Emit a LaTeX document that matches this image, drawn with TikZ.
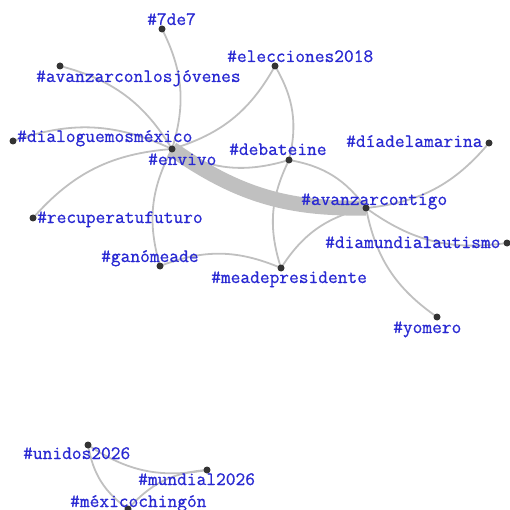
\documentclass[tikz,border=0pt]{standalone}
\usepackage{fontspec}
\newfontfamily\tagfont{Latin Modern Mono}[FakeBold=0.7]
\definecolor{tagblue}{RGB}{40,40,210}
\definecolor{linkgray}{RGB}{192,192,192}
\definecolor{dotgray}{RGB}{51,51,51}
\tikzset{
  tag/.style={font=\tagfont\fontsize{18.9}{20}\selectfont, text=tagblue, inner sep=0pt, anchor=base west},
  dot/.style={circle, fill=dotgray, inner sep=0pt, minimum size=7pt},
  link/.style={draw=linkgray, line width=1.8pt, bend right=22},
}
\begin{document}
\begin{tikzpicture}[x=1pt,y=1pt]
  \useasboundingbox (0,0) rectangle (510,-510);
  % hashtag positions
  \path
    (172,-149) coordinate (envivo)
    (162,-29) coordinate (7de7)
    (60,-66) coordinate (jovenes)
    (13,-141) coordinate (dialoguemos)
    (33,-218) coordinate (recupera)
    (275,-66) coordinate (elecciones)
    (289,-160) coordinate (debateine)
    (489,-143) coordinate (marina)
    (366,-208) coordinate (contigo)
    (507,-243) coordinate (autismo)
    (281,-268) coordinate (meade)
    (437,-317) coordinate (yomero)
    (160,-266) coordinate (ganomeade)
    (88,-445) coordinate (unidos)
    (207,-470) coordinate (mundial)
    (128,-509) coordinate (chingon);
  \begin{scope}[link]
    \draw[line width=15pt, bend right=18] (envivo) to (contigo);
    \draw (envivo) to (7de7);
    \draw (envivo) to (jovenes);
    \draw (envivo) to (elecciones);
    \draw (envivo) to (dialoguemos);
    \draw (envivo) to (recupera);
    \draw (envivo) to (ganomeade);
    \draw (envivo) to (debateine);
    \draw (debateine) to (elecciones);
    \draw (debateine) to (meade);
    \draw (contigo) to (debateine);
    \draw (meade) to (ganomeade);
    \draw (contigo) to (meade);
    \draw (contigo) to (marina);
    \draw (contigo) to (autismo);
    \draw (contigo) to (yomero);
    \draw (unidos) to (mundial);
    \draw (unidos) to (chingon);
    \draw (mundial) to (chingon);
  \end{scope}
  \foreach \n in {envivo,7de7,jovenes,dialoguemos,recupera,elecciones,debateine,
    marina,contigo,autismo,meade,yomero,ganomeade,unidos,mundial,chingon}
    \node[dot] (\n-dot) at (\n) {};
  % labels
  \path
    (147,-25) node[tag] (7de7-tag) {\#7de7}
    (36,-82) node[tag] (jovenes-tag) {\#avanzarconlosjóvenes}
    (227,-62) node[tag] (elecciones-tag) {\#elecciones2018}
    (17,-142) node[tag] (dialoguemos-tag) {\#dialoguemosméxico}
    (148,-165) node[tag] (envivo-tag) {\#envivo}
    (229,-155) node[tag] (debateine-tag) {\#debateine}
    (346,-147) node[tag] (marina-tag) {\#díadelamarina}
    (301,-205) node[tag] (contigo-tag) {\#avanzarcontigo}
    (37,-223) node[tag] (recupera-tag) {\#recuperatufuturo}
    (325,-248) node[tag] (autismo-tag) {\#diamundialautismo}
    (101,-262) node[tag] (ganomeade-tag) {\#ganómeade}
    (211,-283) node[tag] (meade-tag) {\#meadepresidente}
    (393,-333) node[tag] (yomero-tag) {\#yomero}
    (23,-459) node[tag] (unidos-tag) {\#unidos2026}
    (138,-485) node[tag] (mundial-tag) {\#mundial2026}
    (70,-507) node[tag] (chingon-tag) {\#méxicochingón};
\end{tikzpicture}
\end{document}
